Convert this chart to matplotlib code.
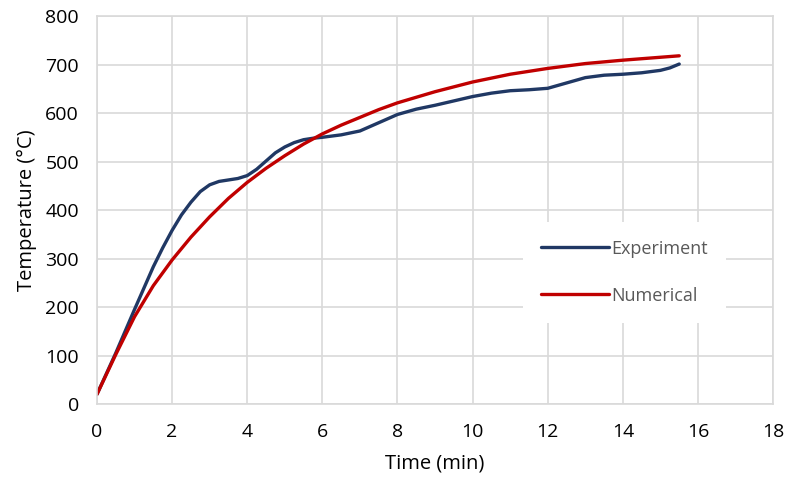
import matplotlib.pyplot as plt

plt.rcParams['font.family'] = ['Open Sans', 'DejaVu Sans']

time_exp = [0, 0.5, 1, 1.5, 1.75, 2, 2.25, 2.5, 2.75, 3, 3.25, 3.5, 3.75, 4, 4.25,
            4.5, 4.75, 5, 5.25, 5.5, 5.75, 6, 6.5, 7, 7.5, 8, 8.5, 9, 9.5, 10,
            10.5, 11, 11.5, 12, 12.5, 13, 13.5, 14, 14.5, 15, 15.25, 15.5]
temp_exp = [20, 105, 195, 283, 322, 358, 390, 416, 438, 452, 459, 462, 465, 471, 484,
            501, 518, 530, 539, 545, 548, 550, 555, 563, 580, 597, 608, 616, 625, 634,
            641, 646, 648, 651, 662, 673, 678, 680, 683, 688, 693, 701]

time_num = [0, 0.5, 1, 1.5, 2, 2.5, 3, 3.5, 4, 4.5, 5, 5.5, 6, 6.5, 7, 7.5, 8, 9,
            10, 11, 12, 13, 14, 15, 15.5]
temp_num = [20, 102, 180, 244, 297, 344, 386, 424, 457, 486, 512, 536, 557, 575,
            591, 607, 621, 644, 664, 680, 692, 702, 709, 715, 718]

fig = plt.figure(figsize=(7.89, 4.86), dpi=100)
ax = fig.add_axes([0.1229, 0.1687, 0.857, 0.7983])

ax.plot(time_exp, temp_exp, color='#203864', lw=2.4, label='Experiment',
        solid_capstyle='round', solid_joinstyle='round')
ax.plot(time_num, temp_num, color='#C00000', lw=2.4, label='Numerical',
        solid_capstyle='round', solid_joinstyle='round')

ax.set_xlim(0, 18)
ax.set_ylim(0, 800)
ax.set_xticks(range(0, 19, 2))
ax.set_yticks(range(0, 801, 100))
ax.grid(True, color='#D9D9D9', lw=1.2)
ax.set_axisbelow(True)
for s in ax.spines.values():
    s.set_color('#D9D9D9')
    s.set_linewidth(1.2)
ax.tick_params(length=0, labelsize=14)
ax.tick_params(axis='x', pad=14)
ax.tick_params(axis='y', pad=13)
ax.set_xlabel('Time (min)', fontsize=14.5, labelpad=9)
ax.set_ylabel('Temperature (°C)', fontsize=14.5, labelpad=6)

leg = ax.legend(loc='center', bbox_to_anchor=(0.78, 0.34), frameon=True,
                facecolor='white', edgecolor='none', framealpha=1, fancybox=False,
                fontsize=13, handlelength=3.8, handletextpad=0.1,
                labelspacing=1.6, borderpad=1.0)
for t in leg.get_texts():
    t.set_color('#595959')

fig.savefig('out.png', dpi=100)
